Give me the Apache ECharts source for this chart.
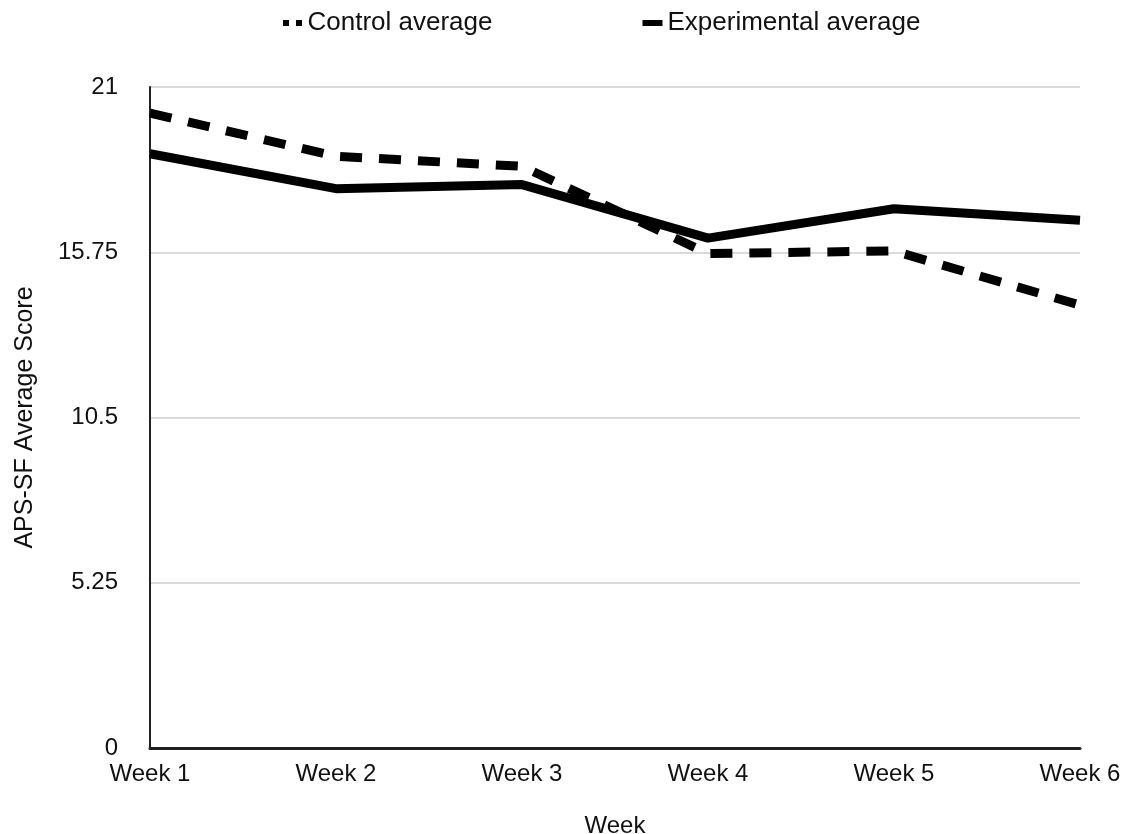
<!DOCTYPE html>
<html>
<head>
<meta charset="utf-8">
<script src="https://cdn.jsdelivr.net/npm/echarts@6/dist/echarts.min.js"></script>
<style>
html,body{margin:0;padding:0;background:#fff;}
#chart{width:1126px;height:834px;}
</style>
</head>
<body>
<div id="chart"></div>
<script>
const weeks = ['Week 1', 'Week 2', 'Week 3', 'Week 4', 'Week 5', 'Week 6'];
const controlAvg = [20.17, 18.8, 18.48, 15.71, 15.79, 14.07];
const experimentalAvg = [18.88, 17.77, 17.9, 16.2, 17.13, 16.77];
const yTicks = [0, 5.25, 10.5, 15.75, 21];

const chart = echarts.init(document.getElementById('chart'));
const font = 'Liberation Sans, Arial, Helvetica, sans-serif';
chart.setOption({
  animation: false,
  textStyle: { fontFamily: font },
  legend: {
    top: 5,
    left: 278,
    itemGap: 150,
    itemWidth: 20,
    itemHeight: 6,
    textStyle: { fontSize: 26, color: '#111', fontFamily: font },
    data: [
      { name: 'Control average', icon: 'path://M0,0 L6,0 L6,6 L0,6 Z M13,0 L19,0 L19,6 L13,6 Z', itemStyle: { color: '#000' } },
      { name: 'Experimental average', icon: 'rect', itemStyle: { color: '#000' } }
    ]
  },
  grid: { left: 150, right: 46, top: 87, bottom: 86, containLabel: false, outerBoundsMode: 'none' },
  xAxis: {
    type: 'category',
    data: weeks,
    boundaryGap: false,
    name: 'Week',
    nameLocation: 'middle',
    nameGap: 66,
    nameTextStyle: { fontSize: 24, color: '#111' },
    axisLine: { lineStyle: { color: '#222', width: 3 } },
    axisTick: { show: false },
    axisLabel: { fontSize: 24, color: '#111', margin: 14 },
    splitLine: { show: false }
  },
  yAxis: {
    type: 'value',
    min: 0,
    max: 21,
    interval: 5.25,
    name: 'APS-SF Average Score',
    nameLocation: 'middle',
    nameGap: 112,
    nameTextStyle: { fontSize: 25, color: '#111' },
    axisLine: { show: true, lineStyle: { color: '#222', width: 2 } },
    axisTick: { show: false },
    axisLabel: {
      fontSize: 24, color: '#111', margin: 32,
      formatter: function (v) { return yTicks.indexOf(v) >= 0 ? String(v) : ''; }
    },
    splitLine: { lineStyle: { color: '#cfcfcf', width: 1.5 } }
  },
  series: [
    {
      name: 'Control average',
      type: 'line',
      data: controlAvg,
      symbol: 'none',
      lineStyle: { color: '#000', width: 9, type: [22, 17], cap: 'butt' },
      itemStyle: { color: '#000' }
    },
    {
      name: 'Experimental average',
      type: 'line',
      data: experimentalAvg,
      symbol: 'none',
      lineStyle: { color: '#000', width: 9 },
      itemStyle: { color: '#000' }
    }
  ]
});
</script>
</body>
</html>
